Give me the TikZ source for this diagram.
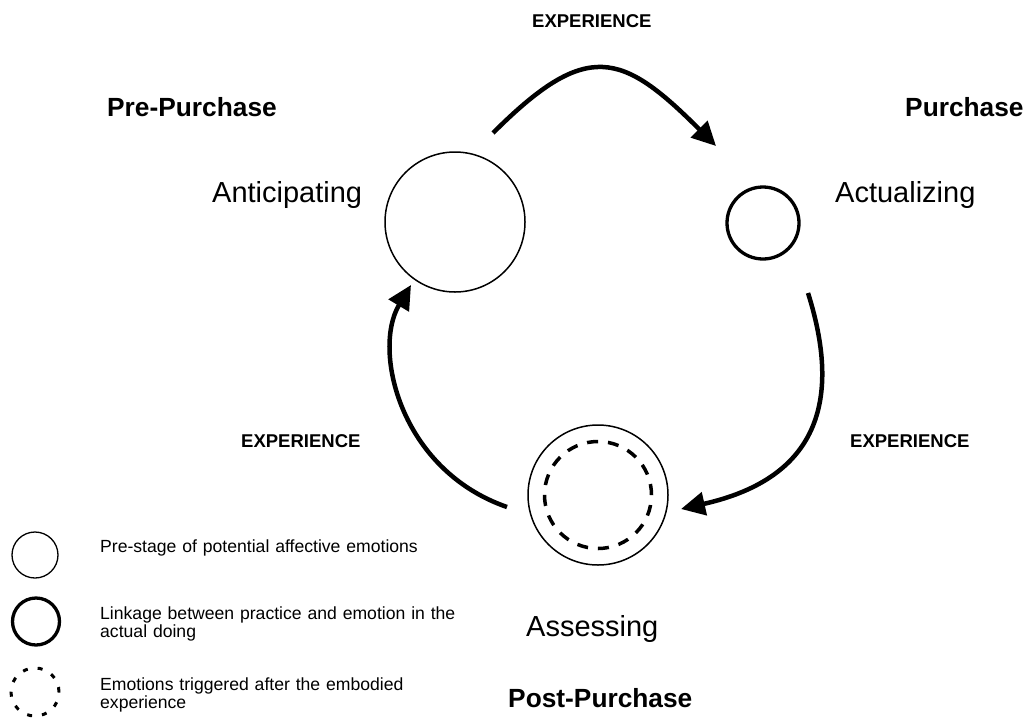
\documentclass[tikz,border=0pt]{standalone}
\usepackage{fontspec}
\setmainfont{Liberation Sans}
\usetikzlibrary{arrows.meta}

\tikzset{
  phase/.style={font=\fontsize{26.3}{30}\selectfont\bfseries, inner sep=0pt, anchor=base west},
  stage/.style={font=\fontsize{29}{33}\selectfont, inner sep=0pt, anchor=base west},
  exper/.style={font=\fontsize{18.5}{22}\selectfont\bfseries, inner sep=0pt, anchor=base west},
  legtext/.style={font=\fontsize{17.6}{18}\selectfont, inner sep=0pt, anchor=base west,
                  align=left, text width=380pt},
  softring/.style={circle, draw, inner sep=0pt, line width=1.5pt},
  boldring/.style={circle, draw, inner sep=0pt, line width=3.3pt},
  dashring/.style={circle, draw, inner sep=0pt, line width=3.5pt, dash pattern=on 11pt off 10pt},
  flow/.style={line width=4.5pt, -{Triangle[length=24pt,width=23pt]}}
}

\begin{document}
\begin{tikzpicture}[x=1pt,y=-1pt]
  \useasboundingbox (0,0) rectangle (1027,718);

  % stage circles
  \node[softring, minimum size=140pt] (ant) at (455,222) {};
  \node[boldring, minimum size=72pt]  (act) at (763,223) {};
  \node[softring, minimum size=140pt] (ass) at (598,495) {};
  \node[dashring, minimum size=107pt] (assin) at (598,495) {};

  % phase titles
  \node[phase] (pre)  at (107,116) {Pre-Purchase};
  \node[phase] (pur)  at (905,116) {Purchase};
  \node[phase] (post) at (508,707) {Post-Purchase};

  % stage names
  \node[stage] (antl) at (212,202) {Anticipating};
  \node[stage] (actl) at (835,202) {Actualizing};
  \node[stage] (assl) at (526,636) {Assessing};

  % experience labels
  \node[exper] (ex1) at (532,27)  {EXPERIENCE};
  \node[exper] (ex2) at (850,447) {EXPERIENCE};
  \node[exper] (ex3) at (241,447) {EXPERIENCE};

  % cycle arrows
  \coordinate (a1) at (493,133);
  \coordinate (a2) at (716,146);
  \coordinate (b1) at (808,293);
  \coordinate (b2) at (681,509);
  \coordinate (c1) at (507,507);
  \coordinate (c2) at (411,285);
  \draw[flow] (a1) .. controls (587,39) and (622,52) .. (a2);
  \draw[flow] (b1) .. controls (845,410) and (810,480) .. (b2);
  \draw[flow] (c1) .. controls (400,470) and (372,350) .. (c2);

  % legend
  \node[circle, draw, inner sep=0pt, line width=1.3pt, minimum size=46pt] (lg1) at (35,555) {};
  \node[boldring, minimum size=47pt] (lg2) at (36,621.5) {};
  \node[circle, draw, inner sep=0pt, line width=3pt, dash pattern=on 5pt off 10pt,
        minimum size=48pt] (lg3) at (35,692) {};
  \node[legtext] (lt1) at (100,552) {Pre-stage of potential affective emotions};
  \node[legtext] (lt2) at (100,619) {Linkage between practice and emotion in the\\actual doing};
  \node[legtext] (lt3) at (100,690) {Emotions triggered after the embodied\\experience};
\end{tikzpicture}
\end{document}
